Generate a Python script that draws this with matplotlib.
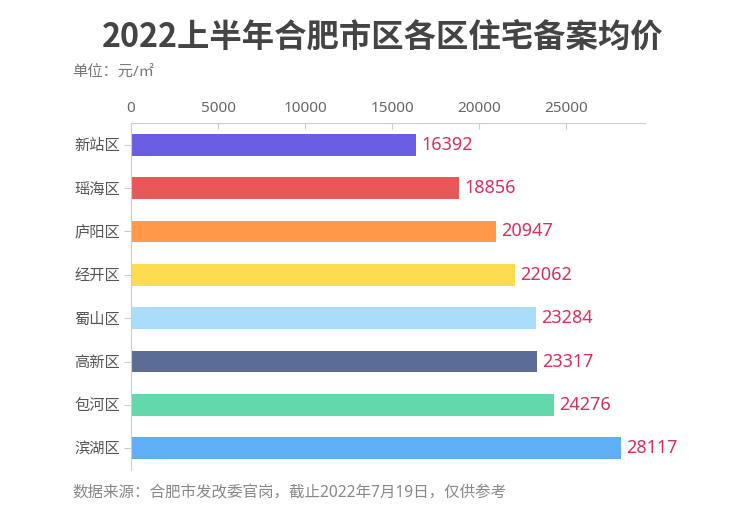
import matplotlib
matplotlib.use("Agg")
import matplotlib.pyplot as plt

plt.rcParams['font.family'] = ['Noto Sans', 'Noto Sans CJK SC', 'DejaVu Sans']

districts = ["新站区", "瑶海区", "庐阳区", "经开区", "蜀山区", "高新区", "包河区", "滨湖区"]
prices = [16392, 18856, 20947, 22062, 23284, 23317, 24276, 28117]
colors = ["#6a5fe3", "#e85858", "#ff9a4b", "#ffdb4f", "#a9ddf9", "#5b6d96", "#63d9ab", "#5eaff3"]
xticks = [0, 5000, 10000, 15000, 20000, 25000]

fig = plt.figure(figsize=(7.30, 5.17), dpi=100)
ax = fig.add_axes([131/730, 1 - 470/517, (645-131)/730, (470-123)/517])

y = list(range(len(districts)))
ax.barh(y, prices, height=0.5, color=colors, zorder=2)
ax.set_ylim(len(districts) - 0.5, -0.5)
ax.set_xlim(0, max(prices) * 1.05)

ax.set_yticks(y)
ax.set_yticklabels(districts, fontsize=11, color="#555555")
ax.xaxis.tick_top()
ax.set_xticks(xticks)
ax.set_xticklabels([str(t) for t in xticks], fontsize=11, color="#666666")
ax.tick_params(axis='x', length=4, color="#cccccc", pad=5, direction='in')
ax.tick_params(axis='y', length=5, color="#cccccc", pad=3)

for s in ['right', 'bottom']:
    ax.spines[s].set_visible(False)
ax.spines['top'].set_color("#cccccc")
ax.spines['left'].set_color("#cccccc")

for yi, v in zip(y, prices):
    ax.text(v + 300, yi, str(v), va='center', ha='left', fontsize=13, color="#d8305a")

fig.text(383/730, 1 - 38/517, "2022上半年合肥市区各区住宅备案均价", ha='center', va='center',
         fontsize=23.3, fontweight='bold', color="#444444", family=['Noto Sans CJK SC', 'DejaVu Sans'])
fig.text(72/730, 1 - 72/517, "单位：元/㎡", ha='left', va='center', fontsize=11, color="#777777")
fig.text(72/730, 1 - 493/517, "数据来源：合肥市发改委官岗，截止2022年7月19日，仅供参考", ha='left', va='center',
         fontsize=11.2, color="#888888")

fig.savefig("out.png", dpi=100)
